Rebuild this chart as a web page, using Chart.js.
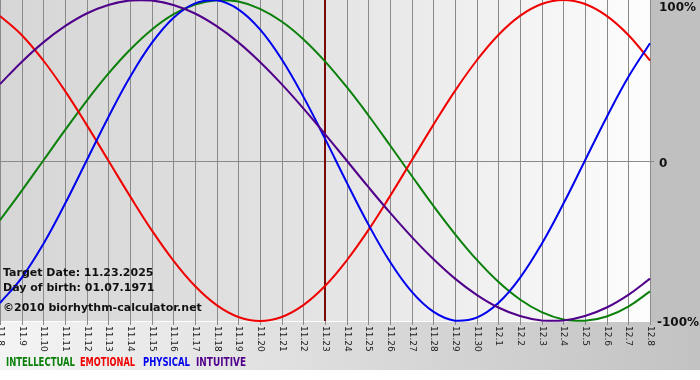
<!DOCTYPE html>
<html>
<head>
<meta charset="utf-8">
<script src="https://cdn.jsdelivr.net/npm/chart.js@4/dist/chart.umd.min.js"></script>
<style>
html,body{margin:0;padding:0;background:#fff;}
#c{display:block;}
</style>
</head>
<body>
<canvas id="c" width="700" height="380"></canvas>
<script>
const labels = ["11.8","11.9","11.10","11.11","11.12","11.13","11.14","11.15","11.16","11.17","11.18","11.19","11.20","11.21","11.22","11.23","11.24","11.25","11.26","11.27","11.28","11.29","11.30","12.1","12.2","12.3","12.4","12.5","12.6","12.7","12.8"];
const intellectual = [-37.2,-18.9,0,18.9,37.2,54.1,69.0,81.5,91.0,97.2,99.9,99.0,94.5,86.6,75.6,61.8,45.8,28.2,9.5,-9.5,-28.2,-45.8,-61.8,-75.6,-86.6,-94.5,-99.0,-99.9,-97.2,-91.0,-81.5];
const emotional = [90.1,78.2,62.3,43.4,22.2,0,-22.2,-43.4,-62.3,-78.2,-90.1,-97.5,-100,-97.5,-90.1,-78.2,-62.3,-43.4,-22.2,0,22.2,43.4,62.3,78.2,90.1,97.5,100,97.5,90.1,78.2,62.3];
const physical = [-88.8,-73.1,-52.0,-27.0,0,27.0,52.0,73.1,88.8,97.9,99.8,94.2,81.7,63.1,39.8,13.6,-13.6,-39.8,-63.1,-81.7,-94.2,-99.8,-97.9,-88.8,-73.1,-52.0,-27.0,0,27.0,52.0,73.1];
const intuitive = [47.6,61.4,73.6,83.7,91.6,96.9,99.7,99.7,96.9,91.6,83.7,73.6,61.4,47.6,32.5,16.5,0,-16.5,-32.5,-47.6,-61.4,-73.6,-83.7,-91.6,-96.9,-99.7,-99.7,-96.9,-91.6,-83.7,-73.6];
const seriesNames = ["INTELLECTUAL","EMOTIONAL","PHYSICAL","INTUITIVE"];
const seriesColors = ["#0a800a","#f00000","#0000f0","#50008a"];
const yTickValues = [100,0,-100];
const yTickLabels = ["100%","0","-100%"];
const targetLabel = "11.23";
const infoLines = ["Target Date: 11.23.2025","Day of birth: 01.07.1971","\u00a92010 biorhythm-calculator.net"];

const decor = {
  id:'decor',
  beforeDatasetsDraw(chart){
    const ctx = chart.ctx, a = chart.chartArea, xs = chart.scales.x, ys = chart.scales.y;
    ctx.save();
    const g = ctx.createLinearGradient(0,0,a.right,0);
    g.addColorStop(0,'#d6d6d6');
    g.addColorStop(0.45,'#e2e2e2');
    g.addColorStop(0.7,'#eeeeee');
    g.addColorStop(1,'#fdfdfd');
    ctx.fillStyle = g;
    ctx.fillRect(0,0,a.right,a.bottom);
    ctx.fillStyle = '#c0c0c0';
    ctx.fillRect(a.right+1,0,700-a.right,a.bottom+1);
    const g2 = ctx.createLinearGradient(0,0,700,0);
    g2.addColorStop(0,'#f4f4f4');
    g2.addColorStop(1,'#c2c2c2');
    ctx.fillStyle = g2;
    ctx.fillRect(0,a.bottom+1,700,370-a.bottom-1);
    ctx.strokeStyle = '#8a8a8a';
    ctx.lineWidth = 1;
    for(let i=0;i<labels.length;i++){
      const x = Math.round(xs.getPixelForValue(i))+0.5;
      ctx.beginPath(); ctx.moveTo(x,0); ctx.lineTo(x,a.bottom+4); ctx.stroke();
    }
    const y0 = Math.round(ys.getPixelForValue(0))+0.5;
    ctx.beginPath(); ctx.moveTo(0,y0); ctx.lineTo(a.right+4,y0); ctx.stroke();
    const ti = labels.indexOf(targetLabel);
    const tx = Math.round(xs.getPixelForValue(ti));
    ctx.strokeStyle = '#7a0a0a';
    ctx.lineWidth = 2;
    ctx.beginPath(); ctx.moveTo(tx,0); ctx.lineTo(tx,a.bottom); ctx.stroke();
    ctx.restore();
  },
  afterDraw(chart){
    const ctx = chart.ctx, a = chart.chartArea, xs = chart.scales.x, ys = chart.scales.y;
    ctx.save();
    ctx.fillStyle = '#222';
    ctx.font = '9px "DejaVu Sans"';
    ctx.textAlign = 'left';
    ctx.textBaseline = 'middle';
    for(let i=0;i<labels.length;i++){
      const x = xs.getPixelForValue(i);
      ctx.save();
      ctx.translate(x+0.5, a.bottom+5);
      ctx.rotate(Math.PI/2);
      ctx.fillText(labels[i],0,0);
      ctx.restore();
    }
    ctx.fillStyle = '#111';
    ctx.font = 'bold 12px "DejaVu Sans"';
    ctx.textAlign = 'left';
    ctx.textBaseline = 'alphabetic';
    const offs = [11,6,5];
    const xoff = [659,659,657];
    for(let i=0;i<yTickValues.length;i++){
      const y = ys.getPixelForValue(yTickValues[i]);
      let by = i===0 ? 11 : y+offs[i];
      ctx.fillText(yTickLabels[i], xoff[i], by);
    }
    ctx.font = 'bold 11px "DejaVu Sans"';
    ctx.fillStyle = '#111';
    const ib = [276,291,311];
    for(let i=0;i<infoLines.length;i++) ctx.fillText(infoLines[i],3,ib[i]);
    ctx.font = 'bold 11.5px "DejaVu Sans"';
    const lx = [6,80,143,196], lw = [69,55,47,50];
    for(let i=0;i<seriesNames.length;i++){
      const w = ctx.measureText(seriesNames[i]).width;
      ctx.save();
      ctx.translate(lx[i],366);
      ctx.scale(lw[i]/w,1);
      ctx.fillStyle = seriesColors[i];
      ctx.fillText(seriesNames[i],0,0);
      ctx.restore();
    }
    ctx.restore();
  }
};

const mk = (name,data,color)=>({label:name,data:data,borderColor:color,borderWidth:2,pointRadius:0,tension:0.4,fill:false,clip:false});

new Chart(document.getElementById('c'),{
  type:'line',
  data:{
    labels:labels,
    datasets:[
      mk(seriesNames[3],intuitive,seriesColors[3]),
      mk(seriesNames[2],physical,seriesColors[2]),
      mk(seriesNames[1],emotional,seriesColors[1]),
      mk(seriesNames[0],intellectual,seriesColors[0])
    ]
  },
  options:{
    responsive:false,
    animation:false,
    devicePixelRatio:1,
    layout:{padding:{left:0,right:50,top:0,bottom:59}},
    plugins:{legend:{display:false},tooltip:{enabled:false}},
    scales:{
      x:{display:false,offset:false},
      y:{display:false,min:-100,max:100}
    }
  },
  plugins:[decor]
});
</script>
</body>
</html>
